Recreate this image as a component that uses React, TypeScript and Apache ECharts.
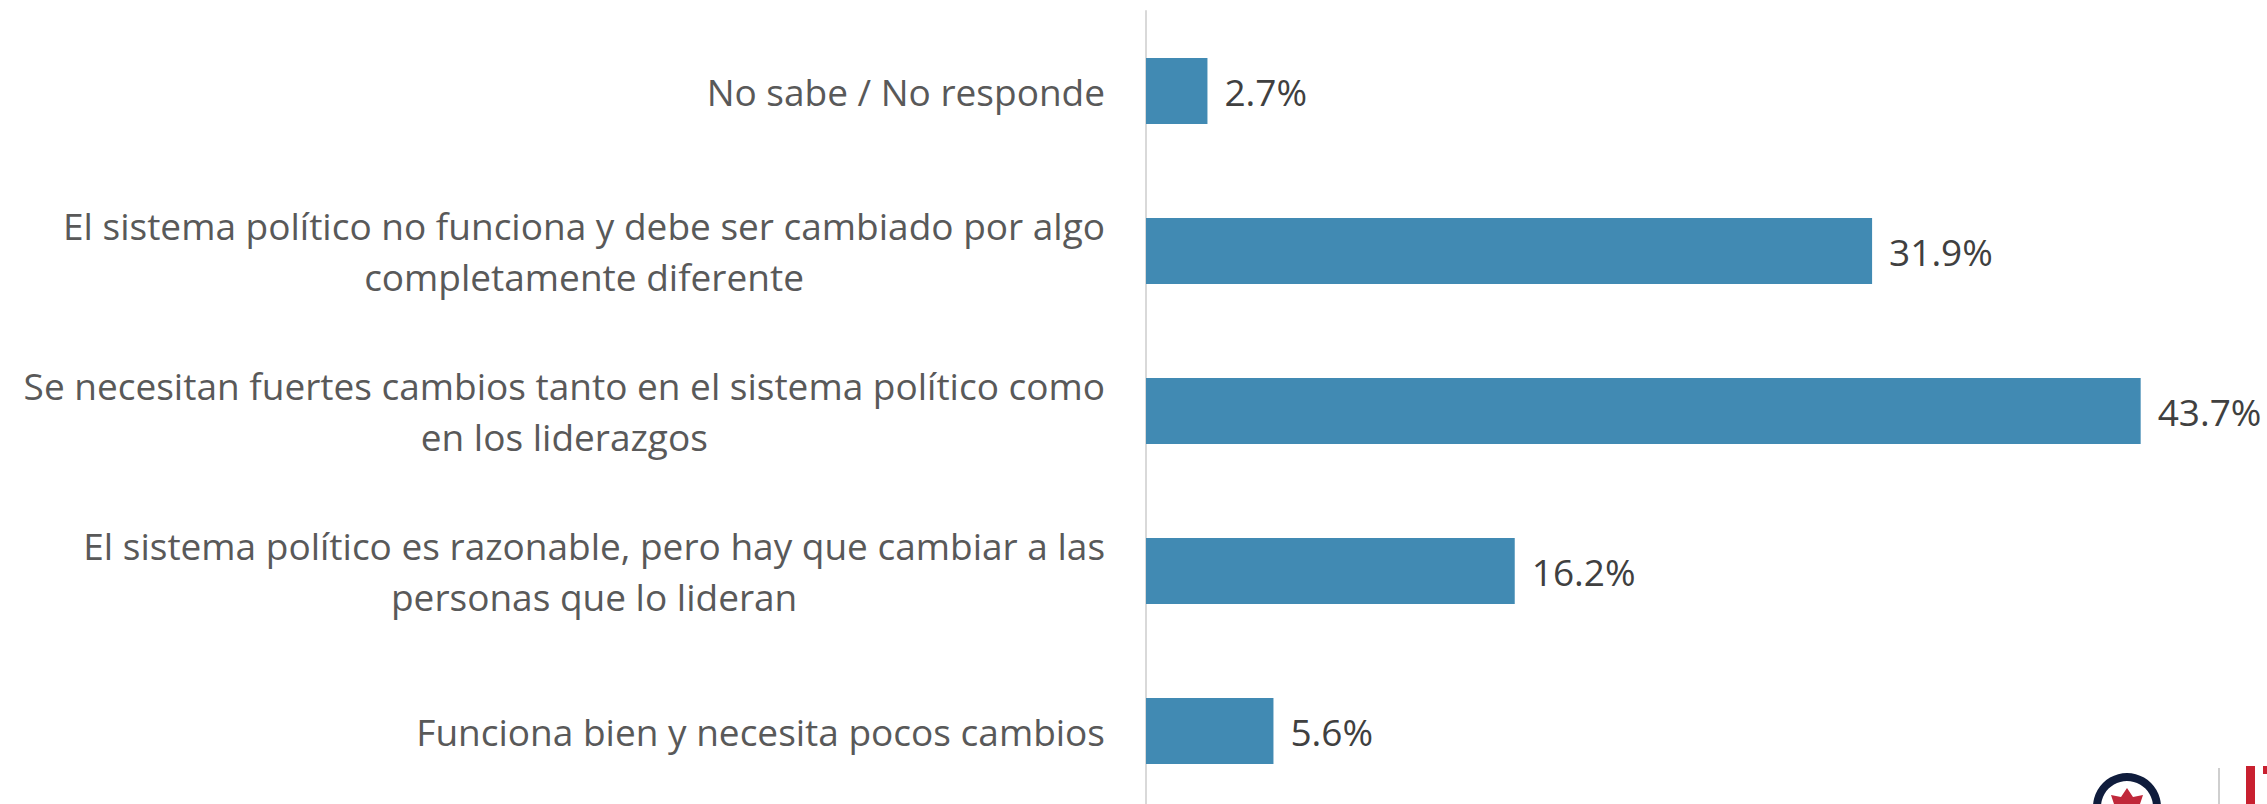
import React, { useEffect, useRef } from "react";
import * as echarts from "echarts";

const categories: string[] = [
  "No sabe / No responde",
  "El sistema político no funciona y debe ser cambiado por algo\ncompletamente diferente",
  "Se necesitan fuertes cambios tanto en el sistema político como\nen los liderazgos",
  "El sistema político es razonable, pero hay que cambiar a las\npersonas que lo lideran",
  "Funciona bien y necesita pocos cambios",
];
const values: number[] = [2.7, 31.9, 43.7, 16.2, 5.6];

export default function App() {
  const ref = useRef<HTMLDivElement>(null);
  useEffect(() => {
    if (!ref.current) return;
    const chart = echarts.init(ref.current, undefined, { renderer: "svg" });
    chart.setOption({
      animation: false,
      backgroundColor: "#ffffff",
      grid: { left: 1146, top: 11, right: 0, height: 800, containLabel: false },
      xAxis: {
        type: "value",
        min: 0,
        max: 49.25,
        show: false,
        splitLine: { show: false },
      },
      yAxis: {
        type: "category",
        inverse: true,
        data: categories,
        axisLine: { show: true, lineStyle: { color: "#d9d9d9", width: 2 } },
        axisTick: { show: false },
        axisLabel: {
          align: "right",
          margin: 41,
          fontSize: 37,
          lineHeight: 51,
          color: "#595959",
          fontFamily: "Open Sans",
          formatter: (v: string) =>
            v
              .split("\n")
              .map((l) => "{c|" + l + "}")
              .join("\n"),
          rich: {
            c: {
              align: "center",
              fontSize: 37,
              lineHeight: 51,
              color: "#595959",
              fontFamily: "Open Sans",
            },
          },
        },
      },
      series: [
        {
          type: "bar",
          data: values,
          barWidth: 66,
          itemStyle: { color: "#418ab3" },
          label: {
            show: true,
            position: "right",
            distance: 17,
            fontSize: 37,
            color: "#404040",
            fontFamily: "Open Sans",
            formatter: (p: any) => Number(p.value).toFixed(1) + "%",
          },
        },
      ],
      graphic: [
        {
          type: "ring",
          shape: { cx: 2127, cy: 807, r: 34, r0: 26 },
          style: { fill: "#0f1c3c" },
        },
        {
          type: "polygon",
          shape: { points: [[2127, 788], [2133, 797], [2143, 795], [2140, 804], [2114, 804], [2111, 795], [2121, 797]] },
          style: { fill: "#c0283a" },
        },
        {
          type: "line",
          shape: { x1: 2219, y1: 768, x2: 2219, y2: 812 },
          style: { stroke: "#cfcfcf", lineWidth: 2 },
        },
        {
          type: "rect",
          shape: { x: 2246, y: 766, width: 9, height: 46 },
          style: { fill: "#c8202f" },
        },
        {
          type: "rect",
          shape: { x: 2263, y: 766, width: 4, height: 8 },
          style: { fill: "#c8202f" },
        },
      ],
    });
    return () => chart.dispose();
  }, []);
  return (
    <div style={{ position: "absolute", left: 0, top: 0, width: 2267, height: 804, overflow: "hidden" }}>
      <div ref={ref} style={{ width: 2267, height: 812 }} />
    </div>
  );
}
